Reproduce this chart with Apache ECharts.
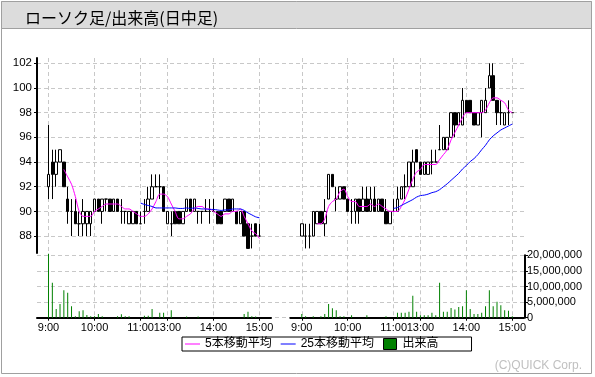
<!DOCTYPE html>
<html><head><meta charset="utf-8">
<script src="https://cdn.jsdelivr.net/npm/echarts@6/dist/echarts.min.js"></script>
<style>html,body{margin:0;padding:0;background:#fff}#c{width:595px;height:377px}</style>
</head><body><div id="c"></div>
<script>
// ---- categories (5-minute bars) ----
const times = ['9:00','9:05','9:10','9:15','9:20','9:25','9:30','9:35','9:40','9:45','9:50','9:55',
  '10:00','10:05','10:10','10:15','10:20','10:25','10:30','10:35','10:40','10:45','10:50','10:55','11:00',
  '12:30','12:35','12:40','12:45','12:50','12:55',
  '13:00','13:05','13:10','13:15','13:20','13:25','13:30','13:35','13:40','13:45','13:50','13:55',
  '14:00','14:05','14:10','14:15','14:20','14:25','14:30','14:35','14:40','14:45','14:50','14:55','15:00'];
const hourLabels = ['9:00','10:00','11:00','13:00','14:00','15:00'];
const priceTicks = [88, 102, 2];          // min, max, step of price labels
const volumeTicks = [0, 20000000, 5000000];

// ---- day 1 : [open, high, low, close] ----
const day1Ohlc = [
 [92,97,91,93],[94,95,91,93],[93,95,92,94],[94,95,94,95],[94,94,92,92],[91,92,89,90],[90,91,88,90],[90,91,89,89],
 [89,90,88,89],[89,91,88,90],[89,90,88,90],[89,90,88,90],[90,91,90,91],[91,91,90,90],[90,91,89,91],[91,91,90,91],
 [91,91,90,90],[90,91,90,91],[91,91,90,90],[90,91,89,90],[90,90,89,90],[89,90,89,90],[89,90,89,90],[90,90,89,89],
 [89,90,89,89],[90,91,89,90],[90,92,90,91],[91,93,91,92],[92,93,92,92],[92,93,91,92],[92,92,90,90],[89,90,89,90],
 [89,90,88,89],[90,90,89,89],[90,90,89,89],[89,90,89,90],[90,91,90,91],[91,91,90,90],[90,91,90,91],[90,90,89,90],
 [90,90,89,90],[90,91,90,90],[90,91,89,90],[90,91,90,90],[90,90,89,89],[90,90,89,89],[90,91,90,91],[91,91,90,90],
 [90,91,90,91],[90,90,89,89],[89,90,89,90],[90,90,88,88],[89,89,87,87],[88,89,87,88],[89,89,88,88],[88,89,88,88]];
const day1Volume = [
 20500000,11200000,2800000,4400000,8800000,8000000,3700000,500000,2100000,2400000,900000,500000,500000,1200000,500000,0,
 0,0,500000,1100000,500000,500000,0,0,0,600000,600000,2800000,0,1600000,1600000,0,
 2400000,0,0,0,400000,0,0,400000,0,0,0,0,0,0,0,0,
 0,0,0,1200000,1900000,500000,400000,0];

// ---- day 2 : [open, high, low, close] ----
const day2Ohlc = [
 [88,89,88,89],[88,89,87,88],[88,89,87,88],[88,90,88,90],[89,90,89,90],[90,90,89,89],[89,91,88,90],[91,93,91,93],
 [93,93,92,92],[91,92,90,91],[91,92,91,92],[92,92,91,91],[91,91,90,90],[90,91,89,90],[90,91,89,91],[91,91,89,90],
 [90,92,90,91],[91,92,90,90],[90,92,90,91],[91,92,90,90],[90,91,90,91],[91,91,90,90],[90,91,89,89],[89,90,89,90],
 [90,91,90,90],[90,92,90,91],[91,92,91,92],[92,93,91,92],[92,94,92,94],[92,95,92,94],[95,95,94,94],[94,94,93,93],
 [93,94,93,94],[93,94,93,94],[94,95,93,94],[94,95,94,94],[95,97,95,95],[95,96,95,96],[95,96,95,96],[96,98,96,98],
 [98,98,96,97],[97,98,97,98],[97,100,97,99],[99,99,98,98],[99,99,98,98],[98,98,97,97],[97,98,97,98],[98,99,96,99],
 [98,100,98,99],[100,102,100,101],[101,102,99,99],[99,99,97,98],[98,99,97,98],[97,98,97,98],[98,99,97,98],[98,98,98,98]];
const day2Volume = [
 1200000,500000,0,500000,0,500000,1200000,4400000,3000000,2400000,500000,500000,0,800000,0,0,
 0,800000,0,0,0,0,500000,0,0,1600000,1600000,1600000,1900000,7000000,1900000,800000,
 800000,800000,1600000,800000,11200000,1900000,1900000,3100000,2600000,3400000,3700000,8800000,2800000,1200000,
 1200000,1600000,3700000,8800000,3700000,5100000,4000000,2400000,2200000,500000];

const PAD = 3;
const cats = ['_a','_b','_c'].concat(times, ['_d','_e','_f']);
const isHour = (i, v) => hourLabels.indexOf(v) >= 0;

function movingAverage(closes, n) {
  const out = [];
  for (let i = 0; i < closes.length; i++) {
    if (i < n - 1) continue;
    let s = 0;
    for (let k = i - n + 1; k <= i; k++) s += closes[k];
    out.push([i + PAD, +(s / n).toFixed(3)]);
  }
  return out;
}
const candle = ohlc => ohlc.map((d, i) => [i + PAD, d[0], d[3], d[2], d[1]]);
const vols = v => v.map((d, i) => [i + PAD, d]);

const FONT = "'Liberation Sans','Noto Sans CJK JP',sans-serif";
const dash = { color: '#c8c8c8', type: [4, 3], width: 1 };

function catAxis(grid, withLabels) {
  return {
    type: 'category', gridIndex: grid, data: cats, boundaryGap: false,
    axisLine: { show: withLabels, onZero: false, lineStyle: { color: '#000', width: 2 } },
    axisTick: { show: withLabels, interval: isHour, length: 3, lineStyle: { color: '#000' } },
    axisLabel: { show: withLabels, interval: isHour, color: '#000', fontSize: 11, margin: 5, fontFamily: FONT },
    splitLine: { show: true, interval: isHour, lineStyle: dash }
  };
}
const PMIN = 86.63, PMAX = 102.43;

const day1Close = day1Ohlc.map(d => d[3]);
const day2Close = day2Ohlc.map(d => d[3]);

const candleStyle = { color: '#fff', color0: '#000', borderColor: '#000', borderColor0: '#000', borderWidth: 1 };
const maLine = (name, data, color, xi) => ({
  type: 'line', name, data, xAxisIndex: xi, yAxisIndex: xi, symbol: 'none', smooth: 0.3,
  lineStyle: { color, width: 1 }, itemStyle: { color }, z: 4
});
const lineIcon = 'path://M0,0h15v1h-15z';

const option = {
  animation: false,
  textStyle: { fontFamily: FONT },
  title: { text: 'ローソク足/出来高(日中足)', left: 20, top: 5,
    textStyle: { fontSize: 16, fontWeight: 'normal', color: '#000', fontFamily: "'Noto Sans CJK JP',sans-serif" } },
  graphic: [
    { type: 'rect', z: -10, shape: { x: 1.5, y: 1.5, width: 590, height: 372 }, style: { fill: '#fff', stroke: '#a0a0a0', lineWidth: 1 } },
    { type: 'rect', z: -9, shape: { x: 1.5, y: 1.5, width: 590, height: 27 }, style: { fill: '#dcdcdc', stroke: '#a0a0a0', lineWidth: 1 } },
    { type: 'text', z: 5, style: { text: '(C)QUICK Corp.', x: 582, y: 366, align: 'right', verticalAlign: 'middle', fill: '#c0c0c0', font: "12px 'Liberation Sans'" } }
  ],
  legend: {
    left: 182, top: 337, orient: 'horizontal',
    data: [
      { name: '5本移動平均', icon: lineIcon },
      { name: '25本移動平均', icon: lineIcon },
      { name: '出来高', icon: 'path://M0,0h13v11h-13z', itemStyle: { borderColor: '#000', borderWidth: 1 } }
    ],
    borderColor: '#000', borderWidth: 1, borderRadius: 0, padding: [1, 33, 1, 3],
    itemGap: 9, itemWidth: 15, itemHeight: 11,
    textStyle: { fontSize: 12, color: '#000', fontFamily: FONT }
  },
  grid: [
    { left: 37, top: 58, width: 234, height: 195 },
    { left: 290.3, top: 58, width: 233.5, height: 195 },
    { left: 37, top: 255.3, width: 234, height: 62.4 },
    { left: 290.3, top: 255.3, width: 233.5, height: 62.4 },
    { left: 37, top: 63.3, width: 488, height: 172.7 },
    { left: 37, top: 255.3, width: 488, height: 62.4 }
  ],
  xAxis: [
    catAxis(0, false), catAxis(1, false), catAxis(2, true), catAxis(3, true),
    { type: 'value', gridIndex: 4, show: false, min: 0, max: 1 },
    { type: 'value', gridIndex: 5, show: false, min: 0, max: 1 }
  ],
  yAxis: [
    { type: 'value', gridIndex: 0, min: PMIN, max: PMAX, axisLine: { show: true, onZero: false, lineStyle: { color: '#000', width: 2 } },
      axisTick: { show: false }, axisLabel: { show: false }, splitLine: { show: false } },
    { type: 'value', gridIndex: 1, min: PMIN, max: PMAX, show: false, splitLine: { show: false } },
    { type: 'value', gridIndex: 2, min: volumeTicks[0], max: volumeTicks[1], show: false, splitLine: { show: false } },
    { type: 'value', gridIndex: 3, min: volumeTicks[0], max: volumeTicks[1], show: false, splitLine: { show: false } },
    { type: 'value', gridIndex: 4, min: priceTicks[0], max: priceTicks[1], interval: priceTicks[2],
      axisLine: { show: false }, axisTick: { show: true, length: 3, lineStyle: { color: '#000' } },
      axisLabel: { color: '#000', fontSize: 11.5, margin: 5, fontFamily: FONT }, splitLine: { show: true, lineStyle: dash } },
    { type: 'value', gridIndex: 5, position: 'right', min: volumeTicks[0], max: volumeTicks[1], interval: volumeTicks[2],
      axisLine: { show: true, onZero: false, lineStyle: { color: '#000', width: 2 } },
      axisTick: { show: true, length: 3, lineStyle: { color: '#000' } },
      axisLabel: { color: '#000', fontSize: 11, margin: 2, fontFamily: FONT, formatter: v => v.toLocaleString('en-US') },
      splitLine: { show: true, lineStyle: dash } }
  ],
  series: [
    { type: 'candlestick', name: 'ローソク足', xAxisIndex: 0, yAxisIndex: 0, data: candle(day1Ohlc),
      encode: { x: 0, y: [1, 2, 3, 4] }, barWidth: 3, itemStyle: candleStyle, z: 3 },
    { type: 'candlestick', name: 'ローソク足', xAxisIndex: 1, yAxisIndex: 1, data: candle(day2Ohlc),
      encode: { x: 0, y: [1, 2, 3, 4] }, barWidth: 3, itemStyle: candleStyle, z: 3 },
    maLine('5本移動平均', movingAverage(day1Close, 5), '#ff00ff', 0),
    maLine('25本移動平均', movingAverage(day1Close, 25), '#0000ff', 0),
    maLine('5本移動平均', movingAverage(day2Close, 5), '#ff00ff', 1),
    maLine('25本移動平均', movingAverage(day2Close, 25), '#0000ff', 1),
    { type: 'bar', name: '出来高', xAxisIndex: 2, yAxisIndex: 2, data: vols(day1Volume), barWidth: 1,
      itemStyle: { color: '#008000' }, clip: false },
    { type: 'bar', name: '出来高', xAxisIndex: 3, yAxisIndex: 3, data: vols(day2Volume), barWidth: 1,
      itemStyle: { color: '#008000' }, clip: false }
  ]
};
const chart = echarts.init(document.getElementById('c'), null, { renderer: 'canvas' });
chart.setOption(option);
</script></body></html>
